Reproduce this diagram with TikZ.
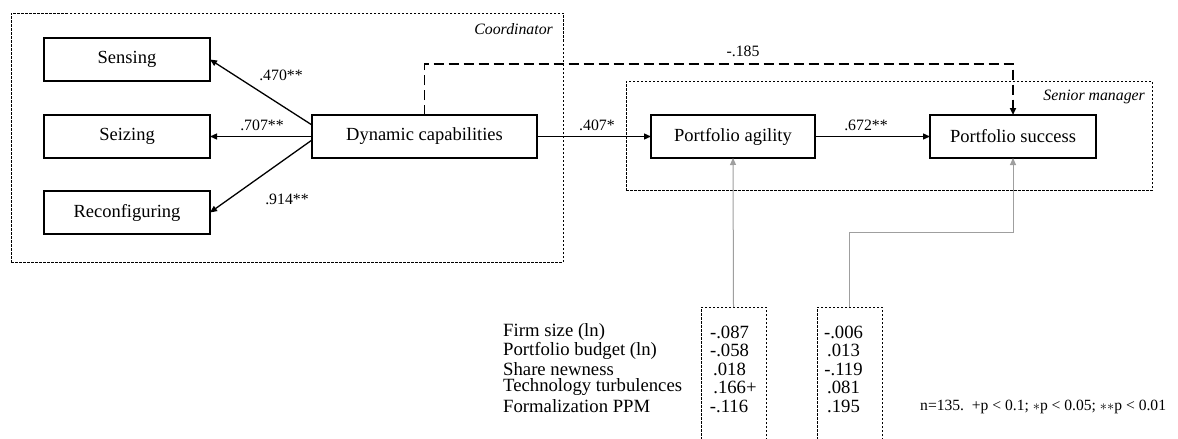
\documentclass[tikz,border=0pt]{standalone}
\usepackage{fontspec}
\setmainfont{Liberation Serif}
\usetikzlibrary{arrows.meta}
\begin{document}
\begin{tikzpicture}[x=1pt,y=-1pt,
  box/.style={draw, line width=1.4pt, inner sep=0pt, outer sep=0pt, minimum height=43pt, font=\fontsize{18.5}{20}\selectfont},
  groupbox/.style={draw, line width=0.9pt, dash pattern=on 2.5pt off 1.5pt, inner sep=0pt, outer sep=0pt},
  ctrlbox/.style={draw, line width=0.9pt, dash pattern=on 2.5pt off 1.5pt, inner sep=0pt, outer sep=0pt, minimum width=65pt, minimum height=140pt},
  conn/.style={line width=1.3pt, -{Triangle[length=7pt,width=6pt]}},
  dconn/.style={line width=1.7pt, dash pattern=on 10pt off 5pt, -{Triangle[length=7pt,width=6pt]}},
  gconn/.style={line width=1pt, draw=gray!75, -{Triangle[length=7pt,width=6pt]}},
  coef/.style={inner sep=0pt, font=\fontsize{15.8}{18}\selectfont},
  grp/.style={inner sep=0pt, font=\fontsize{15.8}{18}\selectfont\itshape},
  row/.style={inner sep=0pt, font=\fontsize{18.7}{20}\selectfont},
  note/.style={inner sep=0pt, font=\fontsize{15.6}{18}\selectfont}
]
\clip (0,0) rectangle (1178,439);
\fill[white] (0,0) rectangle (1178,439);

% group boxes
\node[groupbox, minimum width=552pt, minimum height=249pt] (coordbox) at (287,137.5) {};
\node[grp, anchor=east] (coordlab) at (553,29) {Coordinator};
\node[groupbox, minimum width=526pt, minimum height=109pt] (seniorbox) at (889,135.5) {};
\node[grp, anchor=east] (seniorlab) at (1145,97) {Senior manager};

% main boxes
\node[box, minimum width=166pt] (sens) at (127,59.5) {Sensing};
\node[box, minimum width=166pt] (seiz) at (127,136.5) {Seizing};
\node[box, minimum width=166pt] (reco) at (127,212.5) {Reconfiguring};
\node[box, minimum width=225pt] (dc) at (424.5,136.5) {Dynamic capabilities};
\node[box, minimum width=164pt] (pa) at (733,136.5) {Portfolio agility};
\node[box, minimum width=166pt] (ps) at (1013,136.5) {Portfolio success};

% connectors
\draw[conn] ([yshift=11.5pt]dc.west) -- (sens.east);
\draw[conn] (dc.west) -- (seiz.east);
\draw[conn] ([yshift=-3.5pt]dc.west) -- (reco.east);
\draw[conn] (dc.east) -- (pa.west);
\draw[conn] (pa.east) -- (ps.west);
\draw[dconn] (dc.north) -- ++(0,-51) -| (ps.north);

% coefficient labels
\node[coef] (c1) at (281,75) {.470**};
\node[coef] (c2) at (262,125) {.707**};
\node[coef] (c3) at (287,199) {.914**};
\node[coef] (c4) at (597,125) {.407*};
\node[coef] (c5) at (866,125) {.672**};
\node[coef] (c6) at (743,51) {-.185};

% control boxes
\node[ctrlbox] (b1) at (733.5,377) {};
\node[ctrlbox] (b2) at (849.5,377) {};
\draw[gconn] (b1.north) -- (pa.south);
\draw[gconn] (b2.north) -- ++(0,-75) -| (ps.south);

% control labels
\node[row, anchor=west] (l1) at (503,332) {Firm size (ln)};
\node[row, anchor=west] (l2) at (503,350.5) {Portfolio budget (ln)};
\node[row, anchor=west] (l3) at (503,369) {Share newness};
\node[row, anchor=west] (l4) at (503,387.5) {Technology turbulences};
\node[row, anchor=west] (l5) at (503,406) {Formalization PPM};

\node[row] (v11) at (729.5,332) {-.087};
\node[row] (v12) at (729.5,350.5) {-.058};
\node[row] (v13) at (729.5,369) {.018};
\node[row] (v14) at (735,387.5) {.166+};
\node[row] (v15) at (729,406) {-.116};

\node[row] (v21) at (843.5,332) {-.006};
\node[row] (v22) at (843.5,350.5) {.013};
\node[row] (v23) at (843.5,369) {-.119};
\node[row] (v24) at (843.5,387.5) {.081};
\node[row] (v25) at (843.5,406) {.195};

\node[note, anchor=west] (nt) at (920,407) {n=135.\ \ +p < 0.1; $\ast$p < 0.05; $\ast\ast$p < 0.01};
\end{tikzpicture}
\end{document}
